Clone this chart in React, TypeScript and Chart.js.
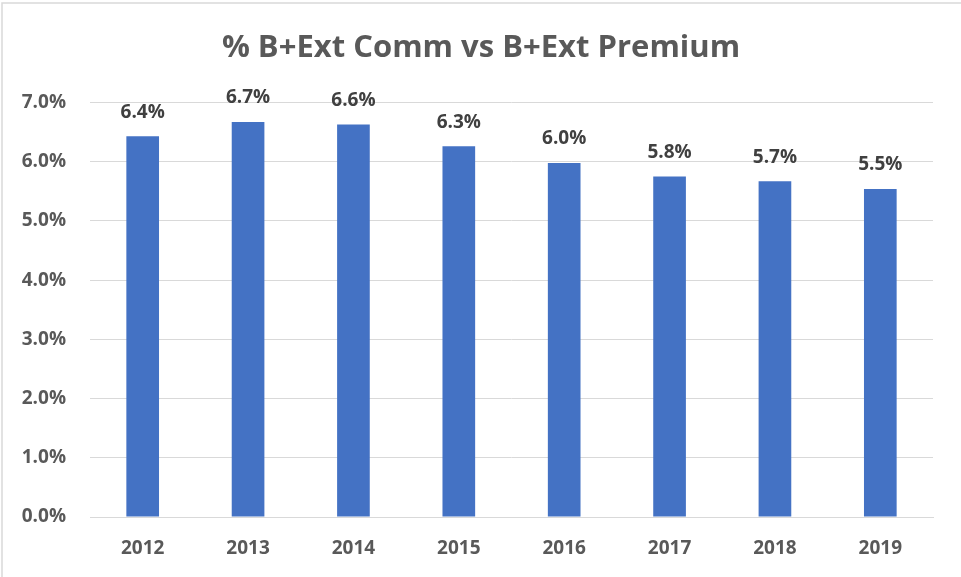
import React, { useEffect, useRef } from "react";
import { Chart, registerables } from "chart.js";

Chart.register(...registerables);

const title = "% B+Ext Comm vs B+Ext Premium";
const years = ["2012", "2013", "2014", "2015", "2016", "2017", "2018", "2019"];
const values = [6.43, 6.67, 6.63, 6.26, 5.98, 5.75, 5.67, 5.54];
const yTicks = [0, 1, 2, 3, 4, 5, 6, 7];

const FONT = "'Open Sans', Lato, sans-serif";

export default function App() {
  const ref = useRef<HTMLCanvasElement>(null);
  useEffect(() => {
    document.body.style.margin = "0";
    document.body.style.overflow = "hidden";
    const canvas = ref.current!;
    const framePlugin = {
      id: "frame",
      beforeDraw(chart: any) {
        const ctx = chart.ctx;
        ctx.save();
        ctx.fillStyle = "#ffffff";
        ctx.fillRect(0, 0, chart.width, chart.height);
        ctx.strokeStyle = "#d9d9d9";
        ctx.lineWidth = 1.5;
        ctx.beginPath();
        ctx.moveTo(2, chart.height);
        ctx.lineTo(2, 3);
        ctx.lineTo(chart.width, 3);
        ctx.stroke();
        ctx.font = `bold 31px ${FONT}`;
        ctx.fillStyle = "#595959";
        ctx.textAlign = "center";
        ctx.textBaseline = "middle";
        ctx.fillText(title, 481, 48);
        ctx.restore();
      },
    };
    const labelPlugin = {
      id: "datalabels",
      afterDatasetsDraw(chart: any) {
        const ctx = chart.ctx;
        const meta = chart.getDatasetMeta(0);
        ctx.save();
        ctx.font = `bold 19px ${FONT}`;
        ctx.fillStyle = "#404040";
        ctx.textAlign = "center";
        ctx.textBaseline = "middle";
        meta.data.forEach((bar: any, i: number) => {
          ctx.fillText(values[i].toFixed(1) + "%", bar.x, bar.y - 24);
        });
        ctx.restore();
      },
    };
    const chart = new Chart(canvas, {
      type: "bar",
      data: {
        labels: years,
        datasets: [
          {
            data: values,
            backgroundColor: "#4472C4",
            borderWidth: 0,
            categoryPercentage: 1,
            barPercentage: 0.31,
          },
        ],
      },
      options: {
        animation: false,
        responsive: false,
        layout: { padding: { left: 0, right: 28, top: 102.5, bottom: 0 } },
        plugins: {
          legend: { display: false },
          tooltip: { enabled: false },
          title: { display: false },
        },
        scales: {
          x: {
            grid: { display: false, drawTicks: false },
            border: { color: "#d9d9d9", width: 1 },
            ticks: {
              color: "#595959",
              font: { family: FONT, size: 19, weight: "bold" },
              padding: 20,
            },
            afterFit(scale: any) {
              scale.height = 60;
            },
          },
          y: {
            min: 0,
            max: 7,
            afterBuildTicks(scale: any) {
              scale.ticks = yTicks.map((v) => ({ value: v }));
            },
            grid: { color: "#d9d9d9", lineWidth: 1, drawTicks: false },
            border: { display: false },
            ticks: {
              color: "#595959",
              font: { family: FONT, size: 19, weight: "bold" },
              padding: 24,
              callback: (v: any) => Number(v).toFixed(1) + "%",
            },
            afterFit(scale: any) {
              scale.width = 90;
            },
          },
        },
      },
      plugins: [framePlugin, labelPlugin],
    } as any);
    return () => chart.destroy();
  }, []);
  return <canvas ref={ref} width={961} height={577} style={{ display: "block" }} />;
}
